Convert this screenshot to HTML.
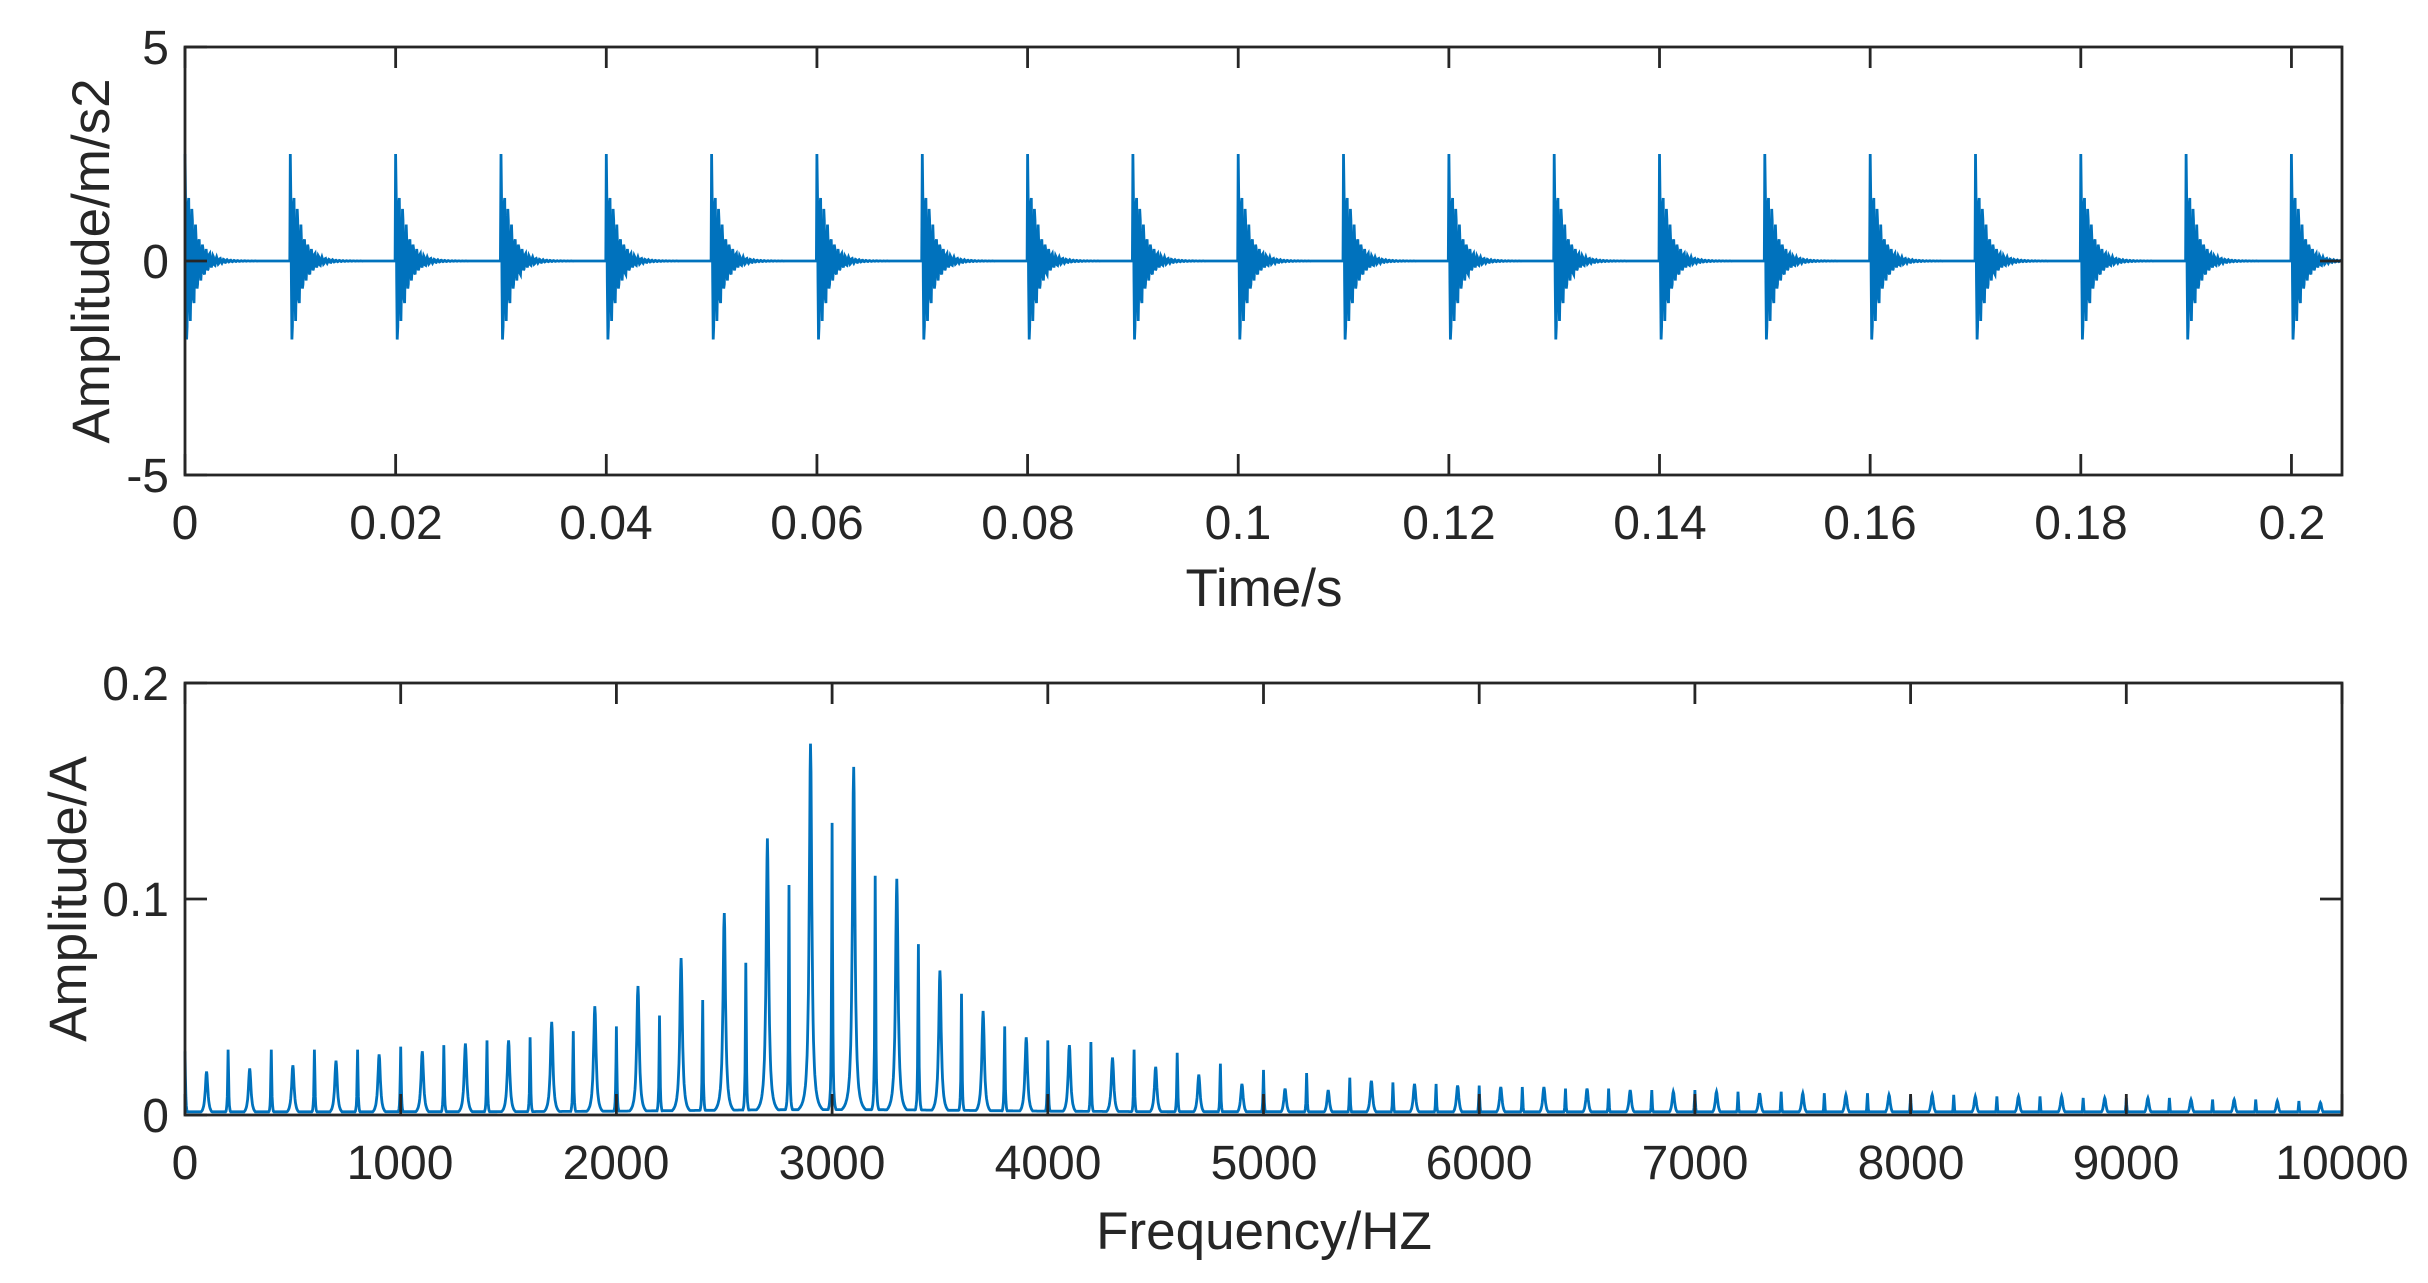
<!DOCTYPE html>
<html><head><meta charset="utf-8"><style>
html,body{margin:0;padding:0;background:#fff;}
svg{display:block}
text{font-family:"Liberation Sans",Arial,sans-serif;fill:#262626}
</style></head><body>
<svg id="s" width="2428" height="1283" viewBox="0 0 2428 1283" xmlns="http://www.w3.org/2000/svg">
<rect width="2428" height="1283" fill="#fff"/>
<g id="g"></g>
<g font-size="48" text-anchor="middle">
<text x="185" y="539">0</text>
<text x="396" y="539">0.02</text>
<text x="606" y="539">0.04</text>
<text x="817" y="539">0.06</text>
<text x="1028" y="539">0.08</text>
<text x="1238" y="539">0.1</text>
<text x="1449" y="539">0.12</text>
<text x="1660" y="539">0.14</text>
<text x="1870" y="539">0.16</text>
<text x="2081" y="539">0.18</text>
<text x="2292" y="539">0.2</text>
<text x="1264" y="606" font-size="53">Time/s</text>
<text x="185" y="1179">0</text>
<text x="400" y="1179">1000</text>
<text x="616" y="1179">2000</text>
<text x="832" y="1179">3000</text>
<text x="1048" y="1179">4000</text>
<text x="1264" y="1179">5000</text>
<text x="1479" y="1179">6000</text>
<text x="1695" y="1179">7000</text>
<text x="1911" y="1179">8000</text>
<text x="2126" y="1179">9000</text>
<text x="2342" y="1179">10000</text>
<text x="1264" y="1249" font-size="53">Frequency/HZ</text>
</g>
<g font-size="48" text-anchor="end">
<text x="169" y="64">5</text>
<text x="169" y="278">0</text>
<text x="169" y="492">-5</text>
<text x="169" y="700">0.2</text>
<text x="169" y="916">0.1</text>
<text x="169" y="1132">0</text>
</g>
<text font-size="53" text-anchor="middle" transform="translate(109,261) rotate(-90)">Amplitude/m/s2</text>
<text font-size="53" text-anchor="middle" transform="translate(86,899) rotate(-90)">Amplitude/A</text>
</svg>
<script>
(function(){
var g=document.getElementById('g');var NS='http://www.w3.org/2000/svg';
function el(n,a){var e=document.createElementNS(NS,n);for(var k in a)e.setAttribute(k,a[k]);g.appendChild(e);return e;}
var L=185,R=2342,T1=47,B1=475,T2=683,B2=1115;
var xmax=0.2048,pts=[];var dt=0.00005;
for(var i=0;i<4096;i++){var t=i*dt;var tl=(t+1e-9)%0.01;
 var v=2.5*Math.exp(-tl/0.0009)*Math.cos(2*Math.PI*3000*tl)+0.25*Math.exp(-tl/0.0006)*Math.sin(2*Math.PI*2100*tl);
 var x=L+t/xmax*(R-L),y=261-v*42.8;pts.push(x.toFixed(1)+','+y.toFixed(1));}
el('polyline',{points:pts.join(' '),fill:'none',stroke:'#0072BD','stroke-width':2.8,'stroke-linejoin':'miter'});
var dy=[677,690,676,688,676,686,676,683,676,679,674,677,673,672,670,670,668,658,664,648,661,635,654,617,644,588,620,540,570,479,530,494,564,566,608,625,640,651,661,668,670,673,671,681,676,687,678,692,685,698,689,701,691,702,694,696,697,698,698,699,699,700,700,700,701,701,701,702,702,703,702,703,703,704,703,704,704,705,704,705,705,705,705,706,706,706,706,706,707,707,707,707,707,708,708,708,708,709,709,710];
var H=dy.map(function(d){return (718-d)/1390;});
var sp=[];
for(var f=0;f<=10000;f+=2){var best=0.0015+0.001*Math.exp(-Math.pow((f-3000)/900,2));
 for(var k=Math.max(0,Math.floor(f/100)-3);k<=Math.min(99,Math.floor(f/100)+3);k++){
  var f0=k*100,h=H[k],w=(k%2)?7:2.5;var c=h*w*w/((f-f0)*(f-f0)+w*w);if(c>best)best=c;}
 var x=L+f/10000*(R-L),y=B2-best*(B2-T2)/0.2;sp.push(x.toFixed(1)+','+y.toFixed(1));}
el('polyline',{points:sp.join(' '),fill:'none',stroke:'#0072BD','stroke-width':2.8});
var ax='#262626';
function box(T,B){el('rect',{x:L,y:T,width:R-L,height:B-T,fill:'none',stroke:ax,'stroke-width':2.8});}
box(T1,B1);box(T2,B2);
function tk(x1,y1,x2,y2){el('line',{x1:x1,y1:y1,x2:x2,y2:y2,stroke:ax,'stroke-width':2.8});}
for(var j=0;j<=10;j++){var x=L+0.02*j/xmax*(R-L);tk(x,B1,x,B1-21);tk(x,T1,x,T1+21);}
[T1,261,B1].forEach(function(y){tk(L,y,L+22,y);tk(R,y,R-22,y);});
for(var j=0;j<=10;j++){var x=L+j/10*(R-L);tk(x,B2,x,B2-21);tk(x,T2,x,T2+21);}
[T2,899,B2].forEach(function(y){tk(L,y,L+22,y);tk(R,y,R-22,y);});
})();
</script>
</body></html>
